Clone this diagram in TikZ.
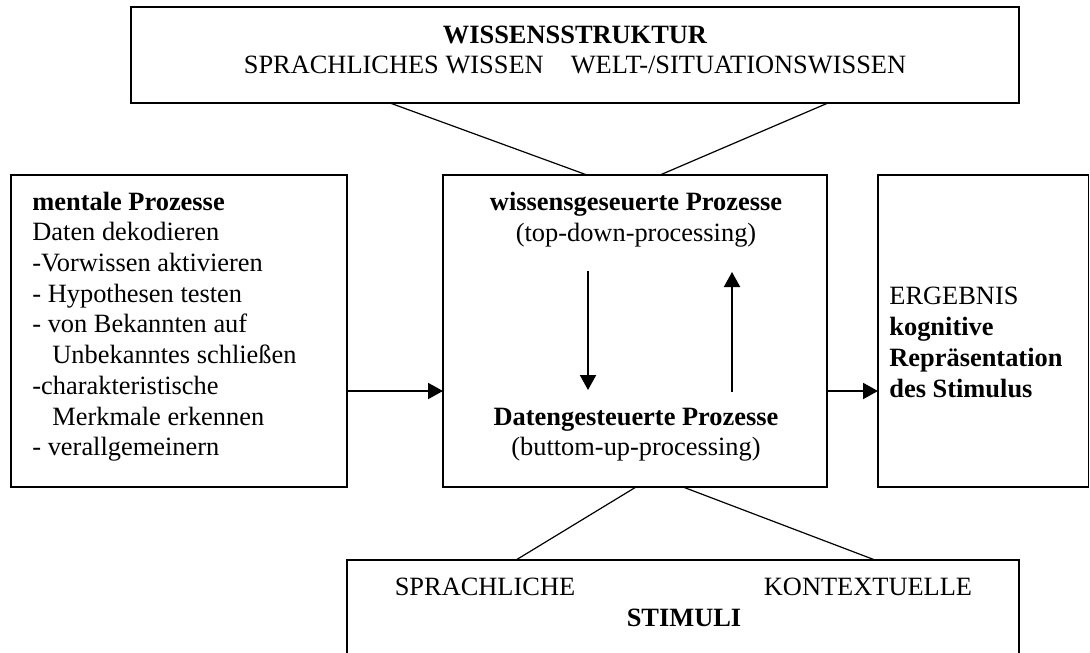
\documentclass[tikz,border=0pt]{standalone}
\usepackage{fontspec}
\setmainfont{Liberation Serif}
\usetikzlibrary{arrows.meta,calc}
\begin{document}
\begin{tikzpicture}[x=0.5pt,y=-0.5pt,
  box/.style={draw,line width=0.8pt,inner sep=0pt,outer sep=0pt,anchor=north west},
  txt/.style={inner sep=0pt,font=\fontsize{13.2pt}{15.35pt}\selectfont},
  lt/.style={txt,anchor=base west},
  ct/.style={txt,anchor=base},
  link/.style={line width=0.6pt},
  arr/.style={line width=1pt,-{Triangle[length=7.5pt,width=8pt]}}]
\useasboundingbox (0,0) rectangle (1090,652);
% boxes
\node[box,minimum width=444pt,minimum height=48pt] (top) at (131,7) {};
\node[box,minimum width=168pt,minimum height=156pt] (left) at (11,175) {};
\node[box,minimum width=192pt,minimum height=156pt] (center) at (443,175) {};
\node[box,minimum width=105.25pt,minimum height=156pt] (right) at (878,175) {};
\node[box,minimum width=336pt,minimum height=70pt] (bottom) at (347,560) {};
% top texts
\node[ct] (t1) at (575,44) {\bfseries WISSENSSTRUKTUR};
\node[ct] (t2) at (575,74) {SPRACHLICHES WISSEN\hspace{13.5pt}WELT-/SITUATIONSWISSEN};
% left texts
\node[lt] (l1) at (32,210) {\bfseries mentale Prozesse};
\node[lt] (l2) at (32,240.7) {Daten dekodieren};
\node[lt] (l3) at (32,271.4) {-Vorwissen aktivieren};
\node[lt] (l4) at (32,302) {- Hypothesen testen};
\node[lt] (l5) at (32,332.8) {- von Bekannten auf};
\node[lt] (l6) at (52,363.5) {Unbekanntes schließen};
\node[lt] (l7) at (32,394.2) {-charakteristische};
\node[lt] (l8) at (52,425) {Merkmale erkennen};
\node[lt] (l9) at (32,455.6) {- verallgemeinern};
% center texts
\node[ct] (c1) at (636,210) {\bfseries wissensgeseuerte Prozesse};
\node[ct] (c2) at (636,241) {(top-down-processing)};
\node[ct] (c3) at (636,425) {\bfseries Datengesteuerte Prozesse};
\node[ct] (c4) at (636,455) {(buttom-up-processing)};
% right texts
\node[lt] (r1) at (889,304) {ERGEBNIS};
\node[lt] (r2) at (889,335) {\bfseries kognitive};
\node[lt] (r3) at (889,366) {\bfseries Repräsentation};
\node[lt] (r4) at (889,397) {\bfseries des Stimulus};
% bottom texts
\node[ct] (b1) at (485,595) {SPRACHLICHE};
\node[ct] (b2) at (868,595) {KONTEXTUELLE};
\node[ct] (b3) at (684,626) {\bfseries STIMULI};
% links
\draw[link] ($(top.south west)+(259,0)$) -- ($(center.north west)+(144,0)$);
\draw[link] ($(top.south west)+(697,0)$) -- ($(center.north west)+(217,0)$);
\draw[link] ($(center.south west)+(193,0)$) -- ($(bottom.north west)+(169,0)$);
\draw[link] ($(center.south west)+(240,0)$) -- ($(bottom.north west)+(528,0)$);
% arrows
\draw[arr] ($(left.north east)+(0,216)$) -- ($(center.north west)+(0,216)$);
\draw[arr] ($(center.north east)+(0,216)$) -- ($(right.north west)+(0,216)$);
\draw[arr] ($(center.north west)+(145,96)$) -- ($(center.north west)+(145,215)$);
\draw[arr] ($(center.north west)+(289,217)$) -- ($(center.north west)+(289,97)$);
\end{tikzpicture}
\end{document}
